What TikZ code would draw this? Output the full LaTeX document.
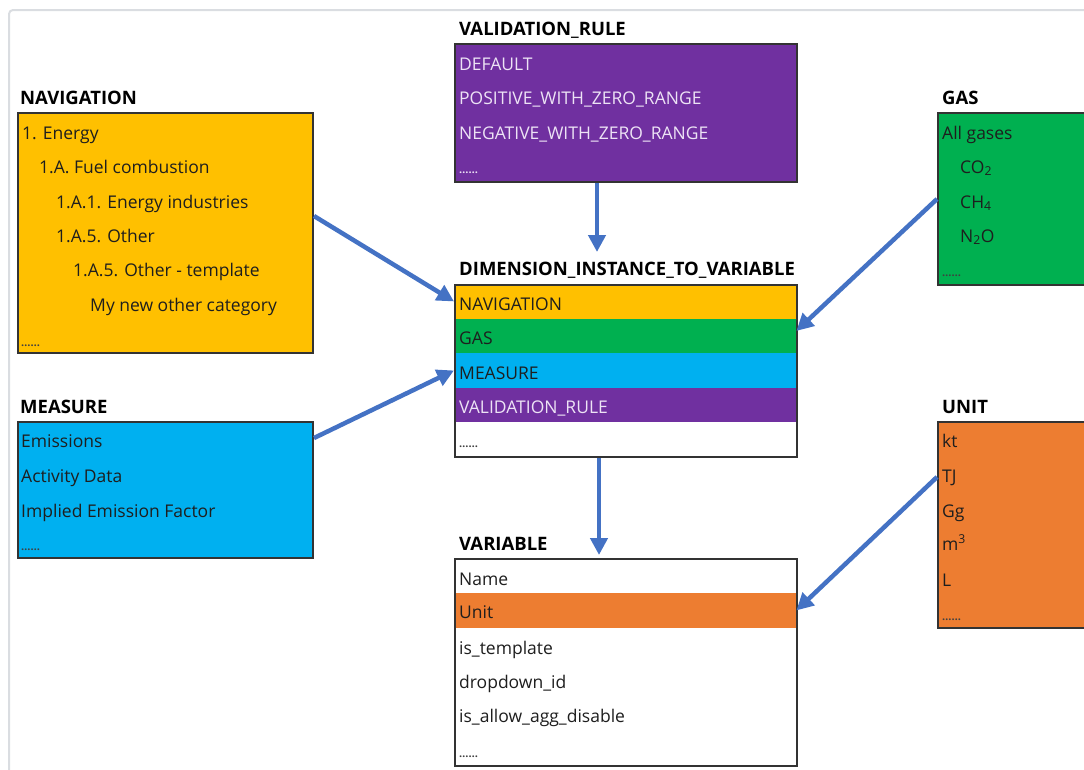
\documentclass[tikz,border=0pt]{standalone}
\usepackage{fontspec}
\setmainfont{Open Sans}
\usetikzlibrary{arrows.meta,calc}
\definecolor{amber}{HTML}{FFC000}
\definecolor{grn}{HTML}{00B050}
\definecolor{sky}{HTML}{00B0F0}
\definecolor{purp}{HTML}{7030A0}
\definecolor{orng}{HTML}{ED7D31}
\definecolor{arrowblue}{HTML}{4472C4}
\definecolor{framegray}{HTML}{DADDE1}
\definecolor{ink}{HTML}{1E1E1E}
\definecolor{lav}{HTML}{EDE3F5}
\tikzset{
  box/.style={draw=black!80, line width=2pt, inner sep=0, anchor=north west},
  rowbox/.style={inner sep=0, anchor=north west, minimum width=342pt, minimum height=34.5pt},
  ttl/.style={font=\fontsize{18.5}{18.5}\selectfont\bfseries, text=black, anchor=base west, inner sep=0},
  txt/.style={font=\fontsize{17.5}{17.5}\selectfont, text=ink, anchor=base west, inner sep=0},
  wtxt/.style={txt, text=lav},
  dots/.style={font=\fontsize{11}{11}\selectfont\bfseries, text=ink!85, anchor=base west, inner sep=0},
  wdots/.style={dots, text=lav},
  conn/.style={draw=arrowblue, line width=4.5pt, -{Triangle[length=17pt,width=17pt]}},
}
\begin{document}
\begin{tikzpicture}[x=1pt,y=-1pt]
\useasboundingbox (0,0) rectangle (1084,769);
\clip (0,0) rectangle (1084,769);
% frame
\draw[framegray, line width=2pt, rounded corners=4pt] (9,780) -- (9,10) -- (1095,10);

% NAVIGATION
\node[ttl] (navT) at (20,104) {NAVIGATION};
\node[box, fill=amber, minimum width=295pt, minimum height=240pt] (nav) at (17,112) {};
\node[txt] (n1) at (22,139) {1. Energy};
\node[txt] (n2) at (39,173) {1.A. Fuel combustion};
\node[txt] (n3) at (56,208) {1.A.1. Energy industries};
\node[txt] (n4) at (56,242) {1.A.5. Other};
\node[txt] (n5) at (73,276) {1.A.5. Other - template};
\node[txt] (n6) at (90,311) {My new other category};
\node[dots] (n7) at (21,346) {……};

% MEASURE
\node[ttl] (measT) at (20,413) {MEASURE};
\node[box, fill=sky, minimum width=295pt, minimum height=136pt] (meas) at (17,421) {};
\node[txt] (m1) at (21,447) {Emissions};
\node[txt] (m2) at (21,482) {Activity Data};
\node[txt] (m3) at (21,517) {Implied Emission Factor};
\node[dots] (m4) at (21,550) {……};

% VALIDATION_RULE
\node[ttl] (vrT) at (459,35) {VALIDATION\_RULE};
\node[box, fill=purp, minimum width=342pt, minimum height=138pt] (vr) at (454,43) {};
\node[wtxt] (v1) at (459,70) {DEFAULT};
\node[wtxt] (v2) at (459,104) {POSITIVE\_WITH\_ZERO\_RANGE};
\node[wtxt] (v3) at (459,139) {NEGATIVE\_WITH\_ZERO\_RANGE};
\node[wdots] (v4) at (459,173) {……};

% DIMENSION_INSTANCE_TO_VARIABLE
\node[ttl] (ditvT) at (459,275) {DIMENSION\_INSTANCE\_TO\_VARIABLE};
\node[rowbox, fill=white, minimum height=172pt] (rbg) at (454,284) {};
\node[rowbox, fill=amber] (rnav) at (454,284) {};
\node[rowbox, fill=grn] (rgas) at (454,318.5) {};
\node[rowbox, fill=sky] (rmeas) at (454,353) {};
\node[rowbox, fill=purp] (rvr) at (454,387.5) {};
\node[box, minimum width=342pt, minimum height=172pt] (ditv) at (454,284) {};
\node[txt] (d1) at (459,310) {NAVIGATION};
\node[txt] (d2) at (459,344) {GAS};
\node[txt] (d3) at (459,379) {MEASURE};
\node[wtxt] (d4) at (459,413) {VALIDATION\_RULE};
\node[dots] (d5) at (459,447) {……};

% GAS
\node[ttl] (gasT) at (942,104) {GAS};
\node[box, fill=grn, minimum width=160pt, minimum height=172pt] (gas) at (937,112) {};
\node[txt] (g1) at (942,139) {All gases};
\node[txt] (g2) at (960,173) {CO\textsubscript{2}};
\node[txt] (g3) at (960,208) {CH\textsubscript{4}};
\node[txt] (g4) at (960,242) {N\textsubscript{2}O};
\node[dots] (g5) at (942,276) {……};

% UNIT
\node[ttl] (unitT) at (942,413) {UNIT};
\node[box, fill=orng, minimum width=160pt, minimum height=206pt] (unit) at (937,421) {};
\node[txt] (u1) at (942,447) {kt};
\node[txt] (u2) at (942,482) {TJ};
\node[txt] (u3) at (942,517) {Gg};
\node[txt] (u4) at (942,550) {m\textsuperscript{3}};
\node[txt] (u5) at (942,586) {L};
\node[dots] (u6) at (942,620) {……};

% VARIABLE
\node[ttl] (varT) at (459,550) {VARIABLE};
\node[rowbox, fill=white, minimum height=207pt] (vbg) at (454,558) {};
\node[rowbox, fill=orng] (runit) at (454,593) {};
\node[box, minimum width=342pt, minimum height=207pt] (var) at (454,558) {};
\node[txt] (w1) at (459,585) {Name};
\node[txt] (w2) at (459,618) {Unit};
\node[txt] (w3) at (459,654) {is\_template};
\node[txt] (w4) at (459,688) {dropdown\_id};
\node[txt] (w5) at (459,722) {is\_allow\_agg\_disable};
\node[dots] (w6) at (459,757) {……};

% connectors
\draw[conn] ([yshift=17pt]nav.east) -- (rnav.west);
\draw[conn] ([yshift=52pt]meas.east) -- (rmeas.west);
\draw[conn, shorten >=32pt] ([xshift=-29pt]vr.south) -- ([xshift=-29pt]ditv.north);
\draw[conn] (gas.west) -- ([yshift=5pt]rgas.east);
\draw[conn, shorten >=3pt] ([xshift=-27pt]ditv.south) -- ([xshift=-27pt]var.north);
\draw[conn] ([yshift=48pt]unit.west) -- (runit.east);
\end{tikzpicture}
\end{document}
